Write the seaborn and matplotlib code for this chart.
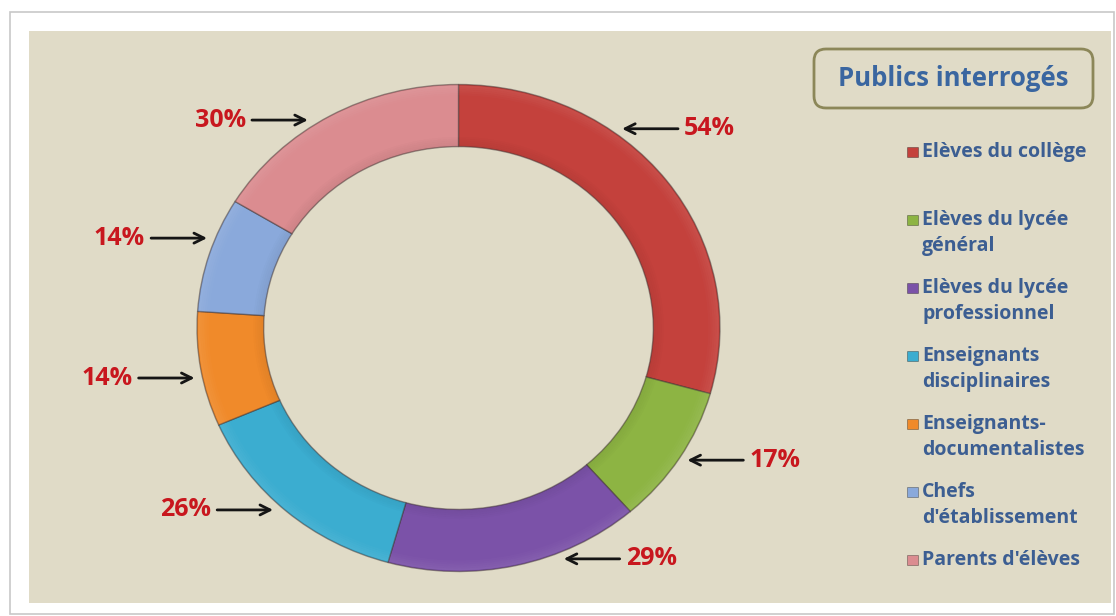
import matplotlib
matplotlib.use("Agg")
import matplotlib.pyplot as plt
import seaborn as sns
import numpy as np
from matplotlib.patches import Rectangle, FancyBboxPatch
from matplotlib.transforms import IdentityTransform

# ---------------- data ----------------
categories = ["Elèves du collège", "Elèves du lycée général", "Elèves du lycée professionnel",
              "Enseignants disciplinaires", "Enseignants-documentalistes",
              "Chefs d'établissement", "Parents d'élèves"]
legend_labels = ["Elèves du collège", "Elèves du lycée\ngénéral", "Elèves du lycée\nprofessionnel",
                 "Enseignants\ndisciplinaires", "Enseignants-\ndocumentalistes",
                 "Chefs\nd'établissement", "Parents d'élèves"]
percent_values = [54, 17, 29, 26, 14, 14, 30]
value_labels = ["54%", "17%", "29%", "26%", "14%", "14%", "30%"]
legend_title = "Publics interrogés"

# ---------------- style ----------------
slice_colors = ["#C4413C", "#8DB443", "#7B52A8", "#3BADD0", "#F08A2A", "#8AA9DB", "#DB8C90"]
BG = "#E0DBC7"
LABEL_RED = "#C8171E"
TITLE_BLUE = "#3A66A0"
LEGEND_BLUE = "#3C5E92"
label_tip_deg = [52.6, -31.8, -67.0, -133.5, -168.5, 159.0, 124.0]

sns.set_theme(style="white")
plt.rcParams["font.family"] = ["Open Sans", "DejaVu Sans"]

W, H = 1116, 616
fig = plt.figure(figsize=(W / 100, H / 100), dpi=100)
fig.patch.set_facecolor("white")

def fx(px):
    return px / W

def fy(py):
    return 1 - py / H

# outer frame and panel
fig.add_artist(Rectangle((fx(10), fy(614)), fx(1114) - fx(10), fy(12) - fy(614),
                         transform=fig.transFigure, facecolor="white",
                         edgecolor="#C8C8C8", lw=1.2, zorder=-2))
fig.add_artist(Rectangle((fx(29), fy(603)), fx(1111) - fx(29), fy(31) - fy(603),
                         transform=fig.transFigure, facecolor=BG,
                         edgecolor="none", zorder=-1))

# donut axes (slightly elliptical as in the reference)
cx, cy, rx, ry, lim = 458.5, 328.0, 261.5, 243.5, 1.1
ax = fig.add_axes([fx(cx - lim * rx), fy(cy + lim * ry), 2 * lim * rx / W, 2 * lim * ry / H])
ax.set_zorder(1)
ax.set_facecolor("none")

ring_w = 0.255
wedges, _ = ax.pie(percent_values, colors=sns.color_palette(slice_colors),
                   startangle=90, counterclock=False, radius=1.0,
                   wedgeprops=dict(width=ring_w, edgecolor=(0.25, 0.2, 0.2, 0.5), linewidth=1.0))
# soft bevel-like shading: graded light bands on the outer rim, dark on the inner rim
n_bands = 5
for k in range(n_bands):
    a = 0.07 * (1 - k / n_bands)
    ax.pie(percent_values, colors=[(1, 1, 1, a)] * len(percent_values),
           startangle=90, counterclock=False, radius=0.995 - k * 0.008,
           wedgeprops=dict(width=0.008, edgecolor="none"))
    ax.pie(percent_values, colors=[(0, 0, 0, a * 0.8)] * len(percent_values),
           startangle=90, counterclock=False, radius=1 - ring_w + 0.008 * (k + 1),
           wedgeprops=dict(width=0.008, edgecolor="none"))
ax.set_aspect("auto")
ax.set_xlim(-lim, lim)
ax.set_ylim(-lim, lim)
ax.axis("off")

for lab, ang in zip(value_labels, label_tip_deg):
    t = np.deg2rad(ang)
    r = 1.03
    x, y = r * np.cos(t), r * np.sin(t)
    right = np.cos(t) > 0
    ax.annotate(lab, xy=(x, y), xytext=(62 if right else -62, 0), textcoords="offset pixels",
                ha="left" if right else "right", va="center",
                fontsize=18, fontweight="bold", color=LABEL_RED,
                arrowprops=dict(arrowstyle="->", color="#151515", lw=2.0,
                                shrinkA=2, shrinkB=0),
                annotation_clip=False)

# legend title box
fig.add_artist(FancyBboxPatch((814, H - 108), 279, 59,
                              boxstyle="round,pad=0,rounding_size=12",
                              transform=IdentityTransform(), facecolor=BG,
                              edgecolor="#8C8759", lw=2, zorder=2))
fig.text(fx(953.5), fy(79), legend_title, ha="center", va="center",
         fontsize=18.5, fontweight="bold", color=TITLE_BLUE, zorder=3)

# legend entries
for i, (lab, col) in enumerate(zip(legend_labels, slice_colors)):
    y0 = 152 + i * 68
    fig.add_artist(Rectangle((907, H - y0 - 5), 11, 10, transform=IdentityTransform(),
                             facecolor=col, edgecolor=(0, 0, 0, 0.35), lw=0.6, zorder=3))
    for j, line in enumerate(lab.split("\n")):
        fig.text(fx(922), fy(y0 + j * 26), line, ha="left", va="center",
                 fontsize=14, fontweight="bold", color=LEGEND_BLUE, zorder=3)

fig.savefig("out.png", dpi=100, facecolor=fig.get_facecolor())
